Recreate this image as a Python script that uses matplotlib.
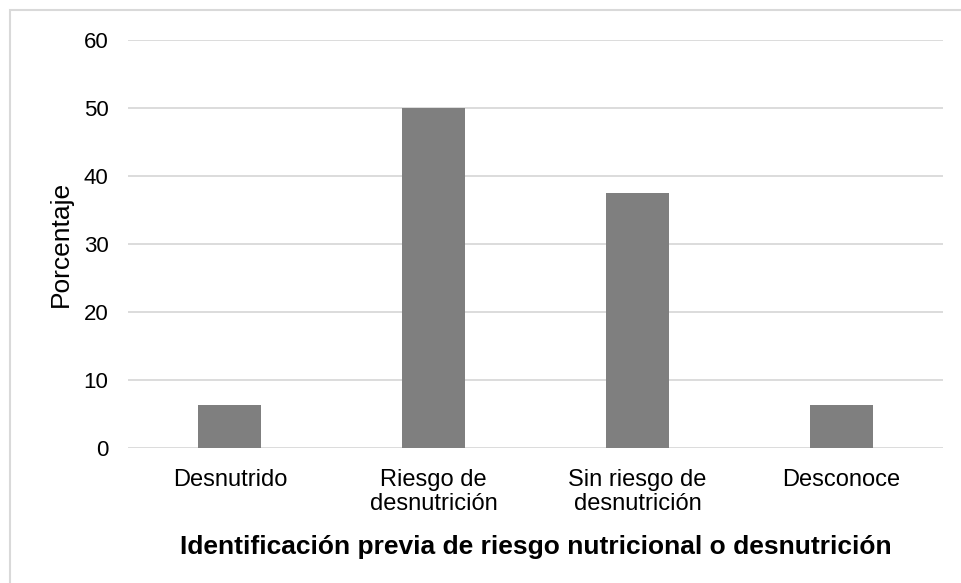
import numpy as np
import matplotlib.pyplot as plt
from matplotlib.patches import Rectangle

plt.rcParams['font.family'] = ['Liberation Sans', 'DejaVu Sans']

# datos
categorias = ['Desnutrido', 'Riesgo de\ndesnutrición', 'Sin riesgo de\ndesnutrición', 'Desconoce']
porcentaje = [6.25, 50, 37.5, 6.25]

fig = plt.figure(figsize=(9.61, 5.83), dpi=100)
ax = fig.add_axes([0.1332, 0.2316, 0.8481, 0.6998])

x = np.arange(len(categorias))
ax.bar(x, porcentaje, width=0.31, color='#7f7f7f', zorder=3)

ax.set_xlim(-0.5, len(categorias) - 0.5)
ax.set_ylim(0, 60)
ax.set_yticks([0, 10, 20, 30, 40, 50, 60])
ax.set_xticks(x)
ax.set_xticklabels(categorias, fontsize=17, color='#000000', linespacing=1.1)
ax.tick_params(axis='y', labelsize=16, length=0, pad=14)
ax.tick_params(axis='x', length=0, pad=15)
ax.grid(axis='y', color='#d9d9d9', linewidth=1.3, zorder=0)
for s in ax.spines.values():
    s.set_visible(False)

ax.set_ylabel('Porcentaje', fontsize=19, labelpad=8)
ax.set_xlabel('Identificación previa de riesgo nutricional o desnutrición',
              fontsize=19, fontweight='bold', labelpad=15)

# borde del gráfico
fig.patches.append(Rectangle((10 / 961, -0.1), 1.2, (583 - 10) / 583 + 0.1,
                             transform=fig.transFigure, fill=False,
                             edgecolor='#d9d9d9', linewidth=1.5))

fig.savefig('out.png', dpi=100)
